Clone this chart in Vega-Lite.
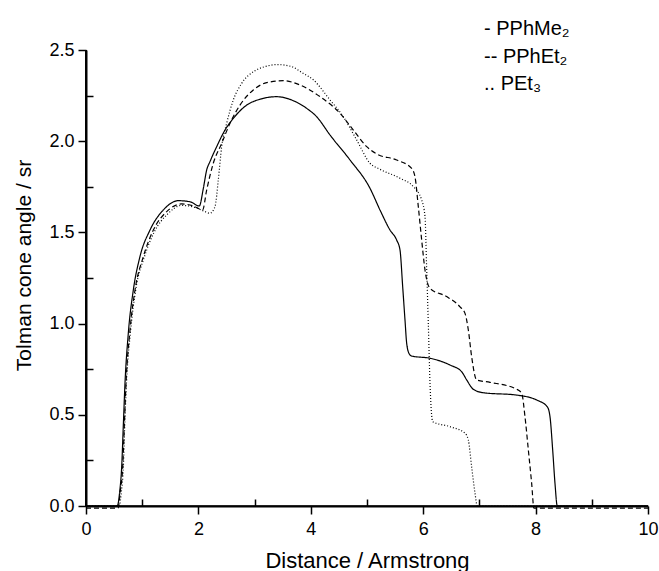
{
  "$schema": "https://vega.github.io/schema/vega-lite/v6.json",
  "width": 562,
  "height": 456,
  "autosize": {"type": "none"},
  "padding": {"left": 86, "top": 50, "right": 11, "bottom": 65},
  "background": "white",
  "config": {
    "view": {"stroke": null},
    "font": "Liberation Sans"
  },
  "datasets": {
    "curves": [
      {"s":"PPhMe2","x":0,"y":0},{"s":"PPhMe2","x":0.556,"y":0},{"s":"PPhMe2","x":0.6,"y":0.08},{"s":"PPhMe2","x":0.635,"y":0.215},{"s":"PPhMe2","x":0.665,"y":0.45},{"s":"PPhMe2","x":0.694,"y":0.674},{"s":"PPhMe2","x":0.753,"y":0.948},{"s":"PPhMe2","x":0.842,"y":1.184},{"s":"PPhMe2","x":0.96,"y":1.367},{"s":"PPhMe2","x":1.139,"y":1.513},{"s":"PPhMe2","x":1.376,"y":1.623},{"s":"PPhMe2","x":1.643,"y":1.674},{"s":"PPhMe2","x":1.85,"y":1.668},{"s":"PPhMe2","x":2.016,"y":1.645},{"s":"PPhMe2","x":2.087,"y":1.74},{"s":"PPhMe2","x":2.147,"y":1.842},{"s":"PPhMe2","x":2.206,"y":1.888},{"s":"PPhMe2","x":2.325,"y":1.97},{"s":"PPhMe2","x":2.473,"y":2.061},{"s":"PPhMe2","x":2.621,"y":2.125},{"s":"PPhMe2","x":2.86,"y":2.198},{"s":"PPhMe2","x":3.096,"y":2.23},{"s":"PPhMe2","x":3.393,"y":2.244},{"s":"PPhMe2","x":3.689,"y":2.222},{"s":"PPhMe2","x":3.927,"y":2.18},{"s":"PPhMe2","x":4.105,"y":2.134},{"s":"PPhMe2","x":4.342,"y":2.034},{"s":"PPhMe2","x":4.698,"y":1.897},{"s":"PPhMe2","x":5.053,"y":1.742},{"s":"PPhMe2","x":5.231,"y":1.623},{"s":"PPhMe2","x":5.409,"y":1.513},{"s":"PPhMe2","x":5.528,"y":1.458},{"s":"PPhMe2","x":5.587,"y":1.404},{"s":"PPhMe2","x":5.635,"y":1.202},{"s":"PPhMe2","x":5.676,"y":1.02},{"s":"PPhMe2","x":5.706,"y":0.892},{"s":"PPhMe2","x":5.75,"y":0.835},{"s":"PPhMe2","x":5.795,"y":0.822},{"s":"PPhMe2","x":6.121,"y":0.81},{"s":"PPhMe2","x":6.477,"y":0.773},{"s":"PPhMe2","x":6.685,"y":0.736},{"s":"PPhMe2","x":6.774,"y":0.691},{"s":"PPhMe2","x":6.892,"y":0.64},{"s":"PPhMe2","x":7.07,"y":0.621},{"s":"PPhMe2","x":7.664,"y":0.608},{"s":"PPhMe2","x":8.02,"y":0.581},{"s":"PPhMe2","x":8.208,"y":0.544},{"s":"PPhMe2","x":8.256,"y":0.49},{"s":"PPhMe2","x":8.304,"y":0.307},{"s":"PPhMe2","x":8.345,"y":0.124},{"s":"PPhMe2","x":8.386,"y":0},{"s":"PPhMe2","x":10,"y":0},

      {"s":"PPhEt2","x":0,"y":-0.012},{"s":"PPhEt2","x":0.57,"y":-0.012},{"s":"PPhEt2","x":0.61,"y":0.08},{"s":"PPhEt2","x":0.653,"y":0.215},{"s":"PPhEt2","x":0.683,"y":0.45},{"s":"PPhEt2","x":0.712,"y":0.673},{"s":"PPhEt2","x":0.783,"y":0.965},{"s":"PPhEt2","x":0.872,"y":1.184},{"s":"PPhEt2","x":1.02,"y":1.367},{"s":"PPhEt2","x":1.198,"y":1.513},{"s":"PPhEt2","x":1.436,"y":1.614},{"s":"PPhEt2","x":1.703,"y":1.656},{"s":"PPhEt2","x":1.91,"y":1.645},{"s":"PPhEt2","x":2.075,"y":1.623},{"s":"PPhEt2","x":2.147,"y":1.732},{"s":"PPhEt2","x":2.265,"y":1.879},{"s":"PPhEt2","x":2.414,"y":1.988},{"s":"PPhEt2","x":2.562,"y":2.098},{"s":"PPhEt2","x":2.74,"y":2.198},{"s":"PPhEt2","x":2.977,"y":2.281},{"s":"PPhEt2","x":3.215,"y":2.321},{"s":"PPhEt2","x":3.511,"y":2.332},{"s":"PPhEt2","x":3.808,"y":2.308},{"s":"PPhEt2","x":4.164,"y":2.244},{"s":"PPhEt2","x":4.52,"y":2.153},{"s":"PPhEt2","x":4.757,"y":2.061},{"s":"PPhEt2","x":4.995,"y":1.97},{"s":"PPhEt2","x":5.172,"y":1.93},{"s":"PPhEt2","x":5.528,"y":1.897},{"s":"PPhEt2","x":5.795,"y":1.851},{"s":"PPhEt2","x":5.854,"y":1.805},{"s":"PPhEt2","x":5.913,"y":1.641},{"s":"PPhEt2","x":5.973,"y":1.458},{"s":"PPhEt2","x":6.032,"y":1.294},{"s":"PPhEt2","x":6.121,"y":1.193},{"s":"PPhEt2","x":6.418,"y":1.148},{"s":"PPhEt2","x":6.655,"y":1.092},{"s":"PPhEt2","x":6.744,"y":1.056},{"s":"PPhEt2","x":6.803,"y":0.965},{"s":"PPhEt2","x":6.862,"y":0.819},{"s":"PPhEt2","x":6.951,"y":0.691},{"s":"PPhEt2","x":7.189,"y":0.678},{"s":"PPhEt2","x":7.664,"y":0.64},{"s":"PPhEt2","x":7.753,"y":0.618},{"s":"PPhEt2","x":7.811,"y":0.49},{"s":"PPhEt2","x":7.871,"y":0.307},{"s":"PPhEt2","x":7.93,"y":0.124},{"s":"PPhEt2","x":7.97,"y":-0.012},{"s":"PPhEt2","x":10,"y":-0.012},

      {"s":"PEt3","x":0,"y":0},{"s":"PEt3","x":0.59,"y":0},{"s":"PEt3","x":0.63,"y":0.08},{"s":"PEt3","x":0.665,"y":0.215},{"s":"PEt3","x":0.69,"y":0.45},{"s":"PEt3","x":0.72,"y":0.673},{"s":"PEt3","x":0.795,"y":0.965},{"s":"PEt3","x":0.884,"y":1.184},{"s":"PEt3","x":1.04,"y":1.367},{"s":"PEt3","x":1.21,"y":1.5},{"s":"PEt3","x":1.45,"y":1.6},{"s":"PEt3","x":1.7,"y":1.648},{"s":"PEt3","x":1.91,"y":1.64},{"s":"PEt3","x":2.117,"y":1.614},{"s":"PEt3","x":2.206,"y":1.605},{"s":"PEt3","x":2.295,"y":1.641},{"s":"PEt3","x":2.354,"y":1.787},{"s":"PEt3","x":2.414,"y":1.97},{"s":"PEt3","x":2.503,"y":2.098},{"s":"PEt3","x":2.621,"y":2.226},{"s":"PEt3","x":2.77,"y":2.317},{"s":"PEt3","x":3.0,"y":2.385},{"s":"PEt3","x":3.2,"y":2.41},{"s":"PEt3","x":3.4,"y":2.42},{"s":"PEt3","x":3.65,"y":2.41},{"s":"PEt3","x":3.85,"y":2.375},{"s":"PEt3","x":4.046,"y":2.336},{"s":"PEt3","x":4.342,"y":2.226},{"s":"PEt3","x":4.579,"y":2.134},{"s":"PEt3","x":4.816,"y":2.007},{"s":"PEt3","x":5.053,"y":1.879},{"s":"PEt3","x":5.231,"y":1.846},{"s":"PEt3","x":5.587,"y":1.797},{"s":"PEt3","x":5.824,"y":1.751},{"s":"PEt3","x":5.973,"y":1.678},{"s":"PEt3","x":6.032,"y":1.586},{"s":"PEt3","x":6.062,"y":1.3},{"s":"PEt3","x":6.091,"y":1.0},{"s":"PEt3","x":6.121,"y":0.673},{"s":"PEt3","x":6.169,"y":0.462},{"s":"PEt3","x":6.477,"y":0.435},{"s":"PEt3","x":6.744,"y":0.399},{"s":"PEt3","x":6.803,"y":0.362},{"s":"PEt3","x":6.862,"y":0.215},{"s":"PEt3","x":6.922,"y":0.07},{"s":"PEt3","x":6.962,"y":0},{"s":"PEt3","x":10,"y":0}
    ]
  },
  "layer": [
    {
      "data": {"name": "curves"},
      "mark": {"type": "line", "interpolate": "monotone", "strokeWidth": 1.2, "color": "black"},
      "encoding": {
        "x": {
          "field": "x", "type": "quantitative",
          "scale": {"domain": [0, 10], "nice": false},
          "axis": {
            "values": [0,1,2,3,4,5,6,7,8,9,10],
            "labelExpr": "datum.value % 2 == 0 ? format(datum.value, 'd') : ''",
            "tickSize": {"condition": {"test": "datum.value % 2 == 0", "value": 8}, "value": -7},
            "grid": false, "domain": true,
            "domainColor": "black", "domainWidth": 2,
            "tickColor": "black", "tickWidth": 1.5,
            "labelFont": "Liberation Sans", "labelFontSize": 18, "labelColor": "black", "labelPadding": 6,
            "labelFlush": false,
            "title": "Distance / Armstrong",
            "titleFont": "Liberation Sans", "titleFontSize": 22, "titleFontWeight": "normal", "titleColor": "black",
            "titleX": 281, "titleY": 61, "titleBaseline": "alphabetic", "titleAlign": "center"
          }
        },
        "y": {
          "field": "y", "type": "quantitative",
          "scale": {"domain": [0, 2.5], "nice": false, "zero": false},
          "axis": {
            "values": [0,0.25,0.5,0.75,1,1.25,1.5,1.75,2,2.25,2.5],
            "labelExpr": "datum.value % 0.5 == 0 ? format(datum.value, '.1f') : ''",
            "tickSize": {"condition": {"test": "datum.value % 0.5 == 0", "value": 8}, "value": -7},
            "grid": false, "domain": true,
            "domainColor": "black", "domainWidth": 2,
            "tickColor": "black", "tickWidth": 1.5,
            "labelFont": "Liberation Sans", "labelFontSize": 18, "labelColor": "black", "labelPadding": 4,
            "labelFlush": false,
            "title": "Tolman cone angle / sr",
            "titleFont": "Liberation Sans", "titleFontSize": 21, "titleFontWeight": "normal", "titleColor": "black",
            "titleX": -56, "titleY": 215, "titleBaseline": "alphabetic", "titleAlign": "center", "titleAngle": 270
          }
        },
        "strokeDash": {
          "field": "s", "type": "nominal",
          "scale": {"domain": ["PPhMe2", "PPhEt2", "PEt3"], "range": [[1, 0], [5, 3], [1, 2]]},
          "legend": {
            "orient": "none", "legendX": 378, "legendY": -31,
            "title": null, "padding": 0,
            "symbolOpacity": 0, "symbolSize": 1, "symbolStrokeWidth": 0, "labelOffset": 0,
            "rowPadding": 7.5,
            "labelFont": "Liberation Sans", "labelFontSize": 20, "labelColor": "black",
            "labelLimit": 300,
            "labelExpr": "datum.label == 'PPhMe2' ? '-  PPhMe₂' : (datum.label == 'PPhEt2' ? '-- PPhEt₂' : '..  PEt₃')"
          }
        }
      }
    },
    {
      "data": {"values": [{"x0": 0, "ya": 0, "yb": 2.5}]},
      "mark": {"type": "rule", "color": "black", "strokeWidth": 2},
      "encoding": {
        "x": {"field": "x0", "type": "quantitative"},
        "y": {"field": "ya", "type": "quantitative"},
        "y2": {"field": "yb"}
      }
    },
    {
      "data": {"values": [{}]},
      "mark": {"type": "rule", "color": "black", "strokeWidth": 1.5},
      "encoding": {"y": {"datum": 0, "type": "quantitative"}}
    }
  ]
}
